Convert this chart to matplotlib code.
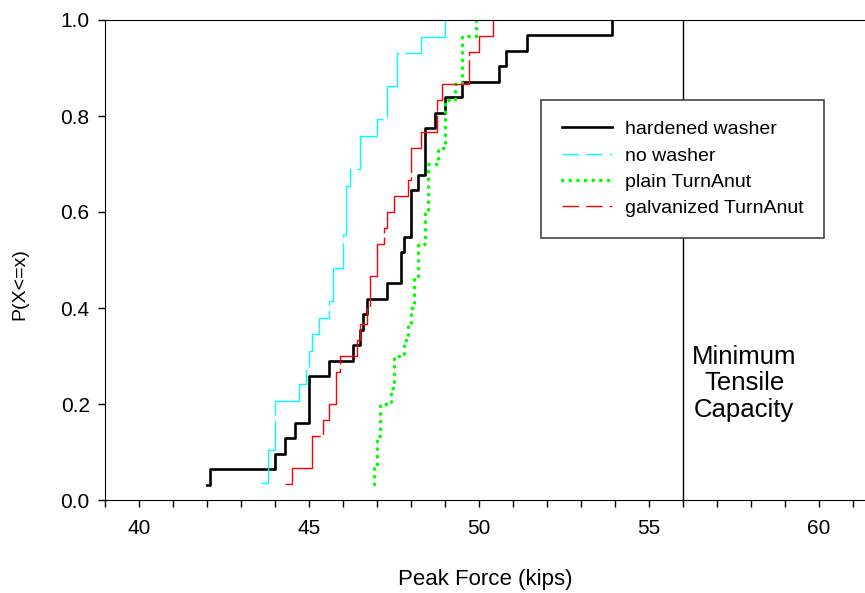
import numpy as np
import matplotlib
matplotlib.use('Agg')
import matplotlib.pyplot as plt
from matplotlib.lines import Line2D
from matplotlib.ticker import MultipleLocator, FormatStrFormatter

plt.rcParams['font.family'] = ['Liberation Sans', 'DejaVu Sans']

# Peak force samples (kips)
hardened_washer = [42.0, 42.1, 44.0, 44.3, 44.6, 45.0, 45.0, 45.0, 45.6, 46.3,
                   46.5, 46.6, 46.7, 47.3, 47.7, 47.7, 47.8, 48.0, 48.0, 48.0,
                   48.2, 48.4, 48.4, 48.4, 48.7, 49.0, 49.5, 50.6, 50.8, 51.4,
                   53.9]
no_washer = [43.6, 43.8, 43.8, 44.0, 44.0, 44.0, 44.7, 44.9, 45.0, 45.1,
             45.3, 45.6, 45.7, 45.7, 46.0, 46.0, 46.1, 46.1, 46.1, 46.2,
             46.5, 46.5, 47.0, 47.3, 47.3, 47.6, 47.6, 48.3, 49.0]
plain_turnanut = [46.9, 46.9, 47.0, 47.0, 47.1, 47.1, 47.4, 47.5, 47.5, 47.8,
                  47.9, 48.0, 48.1, 48.1, 48.2, 48.2, 48.4, 48.4, 48.5, 48.5,
                  48.5, 48.8, 49.0, 49.0, 49.0, 49.3, 49.5, 49.5, 49.5, 49.9]
galvanized_turnanut = [44.3, 44.5, 45.1, 45.1, 45.4, 45.6, 45.8, 45.8, 45.9, 46.4,
                       46.5, 46.7, 46.8, 46.8, 47.0, 47.0, 47.2, 47.3, 47.5, 47.9,
                       48.0, 48.0, 48.3, 48.75, 48.75, 48.9, 49.7, 49.7, 50.0, 50.4]

labels = ['hardened washer', 'no washer', 'plain TurnAnut', 'galvanized TurnAnut']
min_tensile = 56.0

fig = plt.figure(figsize=(8.65, 5.93), dpi=100)
ax = fig.add_axes([105/865, 93/593, 760/865, 480/593])


def ecdf(values):
    x = np.sort(np.asarray(values, dtype=float))
    y = np.arange(1, len(x) + 1) / len(x)
    return x, y


# Step curves
x, y = ecdf(hardened_washer)
ax.step(x, y, where='post', color='black', lw=1.9)

x, y = ecdf(no_washer)
ax.step(x, y, where='post', color='#00ffff', lw=1.0, dashes=(55, 4))

x, y = ecdf(plain_turnanut)
ax.step(x, y, where='post', color='#00ff00', lw=2.5, linestyle=(0, (0.1, 2.1)),
        dash_capstyle='round')

x, y = ecdf(galvanized_turnanut)
ax.step(x, y, where='post', color='#ff0000', lw=1.0, dashes=(60, 3))

# Minimum tensile capacity reference line
ax.axvline(min_tensile, color='black', lw=1.0)
ax.text(57.8, 0.243, 'Minimum\nTensile\nCapacity', ha='center', va='center',
        fontsize=18.5, linespacing=1.13)

ax.set_xlim(39, 61.35)
ax.set_ylim(0, 1.0)
ax.xaxis.set_major_locator(MultipleLocator(5))
ax.xaxis.set_minor_locator(MultipleLocator(1))
ax.yaxis.set_major_locator(MultipleLocator(0.2))
ax.yaxis.set_major_formatter(FormatStrFormatter('%.1f'))
ax.tick_params(axis='both', which='both', direction='out', length=5, width=1,
               labelsize=15, top=False, right=False)
ax.tick_params(axis='x', pad=9)
ax.tick_params(axis='y', pad=6)
ax.spines['right'].set_visible(False)

ax.set_xlabel('Peak Force (kips)', fontsize=16, labelpad=22)
ax.set_ylabel('P(X<=x)', fontsize=14)
ax.yaxis.set_label_coords(-0.101, 0.45)

# Legend uses shorter dashes than the curves, like the original
handles = [
    Line2D([], [], color='black', lw=1.9),
    Line2D([], [], color='#00ffff', lw=1.0, dashes=(12, 5)),
    Line2D([], [], color='#00ff00', lw=2.5, linestyle=(0, (0.1, 2.1)), dash_capstyle='round'),
    Line2D([], [], color='#ff0000', lw=1.0, dashes=(12, 5)),
]
leg = ax.legend(handles, labels, loc='upper left', bbox_to_anchor=(0.574, 0.833),
                fontsize=14, fancybox=False, framealpha=1, edgecolor='#444444',
                handlelength=2.6, handletextpad=0.65, borderpad=1.05,
                labelspacing=0.45, borderaxespad=0)
leg.get_frame().set_linewidth(1.2)

plt.savefig('out.png', dpi=100)
